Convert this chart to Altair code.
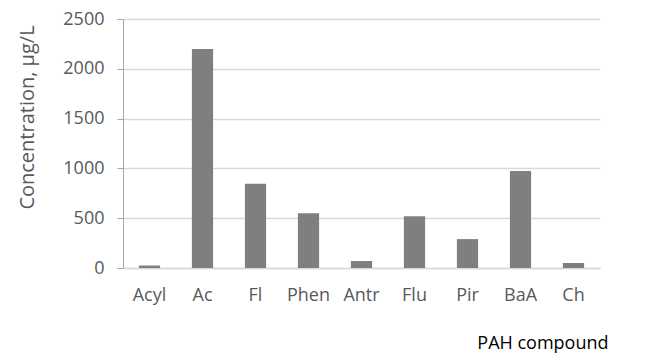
import altair as alt
import pandas as pd

compounds = ["Acyl", "Ac", "Fl", "Phen", "Antr", "Flu", "Pir", "BaA", "Ch"]
concentrations = [25, 2200, 845, 550, 70, 520, 290, 975, 50]

df = pd.DataFrame({"compound": compounds, "value": concentrations})

FONT = "Open Sans"
TXT = "#595959"

chart = alt.Chart(df).mark_bar(color="#7f7f7f").encode(
    x=alt.X(
        "compound:N",
        sort=compounds,
        scale=alt.Scale(paddingInner=0.6, paddingOuter=0.3),
        axis=alt.Axis(
            title="PAH compound",
            labelAngle=0,
            labelFontSize=18,
            labelColor=TXT,
            labelFont=FONT,
            labelPadding=18,
            ticks=False,
            domainColor="#d9d9d9",
            domainWidth=1.3,
            titleFont=FONT,
            titleFontSize=18,
            titleFontWeight="normal",
            titleColor="#000000",
            titleAnchor="end",
            titleAlign="right",
            titleBaseline="middle",
            titleX=485,
            titleY=75,
        ),
    ),
    y=alt.Y(
        "value:Q",
        scale=alt.Scale(domain=[0, 2500], nice=False),
        axis=alt.Axis(
            title="Concentration, µg/L",
            values=[0, 500, 1000, 1500, 2000, 2500],
            format="d",
            labelFontSize=18,
            labelColor=TXT,
            labelFont=FONT,
            labelPadding=13,
            tickSize=6,
            tickColor="#a6a6a6",
            domainColor="#a6a6a6",
            gridColor="#d9d9d9",
            gridWidth=1.3,
            titleFont=FONT,
            titleFontSize=20,
            titleFontWeight="normal",
            titleColor=TXT,
            titleAngle=-90,
            titleAlign="center",
            titleBaseline="middle",
            titleX=-96,
            titleY=98,
        ),
    ),
).properties(
    width=477,
    height=249,
    background="white",
    autosize=alt.AutoSizeParams(type="none"),
    padding={"left": 123, "top": 19, "right": 71, "bottom": 90},
).configure_view(strokeWidth=0, stroke="transparent")

chart.save("out.html", embed_options={"renderer": "svg", "actions": False})
